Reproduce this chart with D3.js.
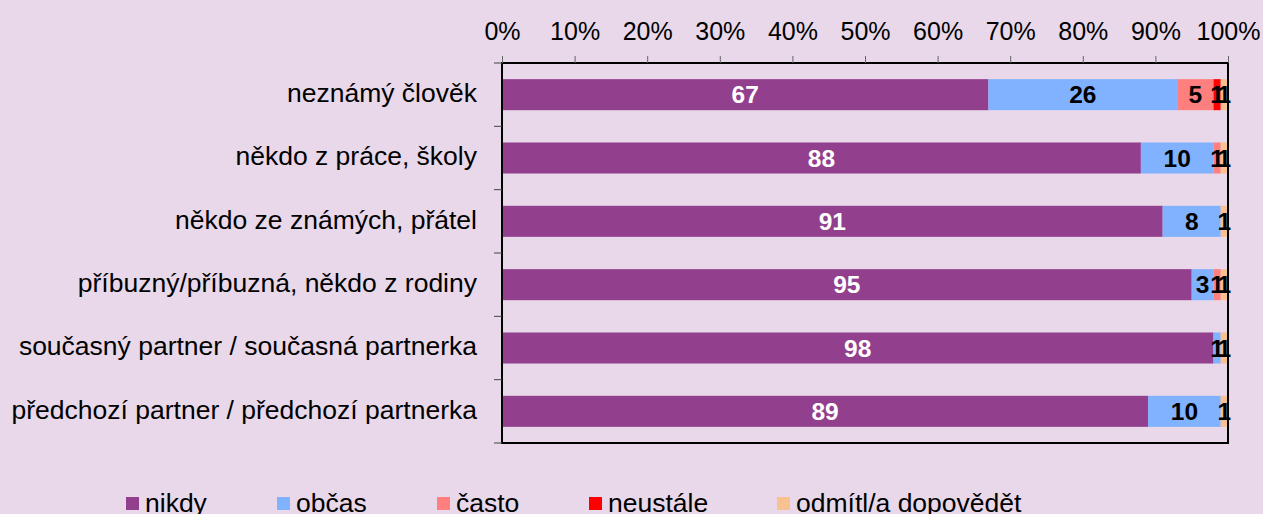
<!DOCTYPE html>
<html>
<head>
<meta charset="utf-8">
<script src="https://cdn.jsdelivr.net/npm/d3@7"></script>
<style>
  body { margin: 0; background: #e8d8ea; }
  svg { display: block; font-family: "Liberation Sans", Arial, sans-serif; }
</style>
</head>
<body>
<div id="main"></div>
<script>
// chart data
var categories = [
  'neznámý člověk',
  'někdo z práce, školy',
  'někdo ze známých, přátel',
  'příbuzný/příbuzná, někdo z rodiny',
  'současný partner / současná partnerka',
  'předchozí partner / předchozí partnerka'
];
var seriesNames = ['nikdy', 'občas', 'často', 'neustále', 'odmítl/a dopovědět'];
var nikdy = [67, 88, 91, 95, 98, 89];
var obcas = [26, 10, 8, 3, 1, 10];
var casto = [5, 1, 0, 1, 0, 0];
var neustale = [1, 0, 0, 0, 0, 0];
var odmitl = [1, 1, 1, 1, 1, 1];
var xTicks = [0, 10, 20, 30, 40, 50, 60, 70, 80, 90, 100];

var colors = ['#923f8e', '#80b2ff', '#ff7f7f', '#ff0000', '#f9c090'];
var labelColors = ['#ffffff', '#000000', '#000000', '#000000', '#000000'];

// layout
var svgWidth = 1263;
var svgHeight = 514;
var plot = { l: 502, r: 1228, t: 63, b: 443 };

var svg = d3.select('#main')
  .append('svg')
  .attr('width', svgWidth)
  .attr('height', svgHeight);

svg.append('rect')
  .attr('width', svgWidth)
  .attr('height', svgHeight)
  .attr('fill', '#e8d8ea');

var xScale = d3.scaleLinear()
  .domain([0, 100])
  .range([plot.l, plot.r]);

var yScale = d3.scaleBand()
  .domain(categories)
  .range([plot.t, plot.b])
  .paddingInner(0.51)
  .paddingOuter(0.255);

// build stacked rows
var rows = categories.map((c, i) => {
  var vals = [nikdy[i], obcas[i], casto[i], neustale[i], odmitl[i]];
  var obj = { cat: c };
  seriesNames.forEach((s, j) => obj[s] = vals[j]);
  return obj;
});
var stacked = d3.stack().keys(seriesNames)(rows);

// bars
var barsG = svg.append('g');
stacked.forEach((layer, j) => {
  barsG.selectAll('.bar-' + j)
    .data(layer.filter(d => d[1] - d[0] > 0))
    .enter()
    .append('rect')
    .attr('x', d => xScale(d[0]))
    .attr('y', d => yScale(d.data.cat))
    .attr('width', d => xScale(d[1]) - xScale(d[0]))
    .attr('height', yScale.bandwidth())
    .attr('fill', colors[j]);
});

// value labels (small ones overlap, as in the original)
stacked.forEach((layer, j) => {
  barsG.selectAll('.lab-' + j)
    .data(layer.filter(d => d[1] - d[0] > 0))
    .enter()
    .append('text')
    .attr('x', d => (xScale(d[0]) + xScale(d[1])) / 2)
    .attr('y', d => yScale(d.data.cat) + yScale.bandwidth() / 2)
    .attr('dy', '0.36em')
    .attr('text-anchor', 'middle')
    .style('font-size', '24.5px')
    .style('font-weight', 'bold')
    .attr('fill', labelColors[j])
    .text(d => d[1] - d[0]);
});

// plot border
svg.append('rect')
  .attr('x', plot.l)
  .attr('y', plot.t)
  .attr('width', plot.r - plot.l)
  .attr('height', plot.b - plot.t)
  .attr('fill', 'none')
  .attr('stroke', '#000')
  .attr('stroke-width', 2);

// top axis
var xAxis = d3.axisTop(xScale)
  .tickValues(xTicks)
  .tickSize(7)
  .tickSizeOuter(0)
  .tickPadding(16)
  .tickFormat(d => d + '%');

var xAxisG = svg.append('g')
  .attr('transform', 'translate(0,' + plot.t + ')')
  .call(xAxis);
xAxisG.select('.domain').remove();
xAxisG.selectAll('line').attr('stroke', '#666');
xAxisG.selectAll('text')
  .attr('fill', '#000')
  .style('font-size', '25px')
  .style('font-family', '"Liberation Sans", Arial, sans-serif');

// left category ticks at band boundaries
var bounds = categories.map(c => yScale(c) - yScale.step() * yScale.paddingInner() / 2);
bounds[0] = plot.t;
bounds.push(plot.b);
svg.append('g')
  .selectAll('line')
  .data(bounds)
  .enter()
  .append('line')
  .attr('x1', plot.l - 8)
  .attr('x2', plot.l)
  .attr('y1', d => d)
  .attr('y2', d => d)
  .attr('stroke', '#444')
  .attr('stroke-width', 1);

// category labels
svg.append('g')
  .selectAll('text')
  .data(categories)
  .enter()
  .append('text')
  .attr('x', 477)
  .attr('y', d => yScale(d) + yScale.bandwidth() / 2)
  .attr('dy', '0.28em')
  .attr('text-anchor', 'end')
  .style('font-size', '26.5px')
  .attr('fill', '#000')
  .text(d => d);

// legend
var legendX = [126, 277, 437, 589, 777];
var legendG = svg.append('g');
seriesNames.forEach((s, j) => {
  legendG.append('rect')
    .attr('x', legendX[j])
    .attr('y', 497)
    .attr('width', 13)
    .attr('height', 13)
    .attr('fill', colors[j]);
  legendG.append('text')
    .attr('x', legendX[j] + 19)
    .attr('y', 512)
    .style('font-size', '26.5px')
    .attr('fill', '#000')
    .text(s);
});
</script>
</body>
</html>
